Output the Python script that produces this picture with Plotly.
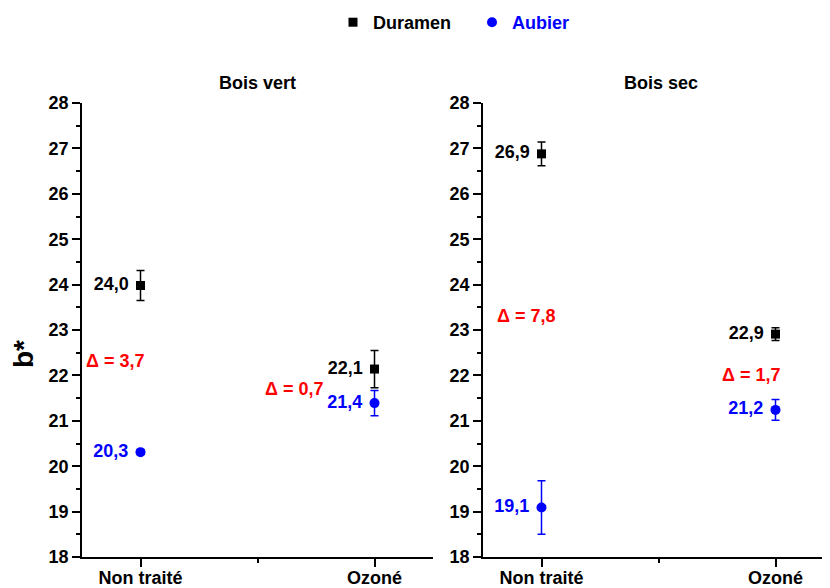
import plotly.graph_objects as go

# ---- data ----
categories = ["Non traité", "Ozoné"]
cat_pos = [1, 2]
panels = ["Bois vert", "Bois sec"]

duramen_vert = [23.98, 22.14]
duramen_vert_err = [0.33, 0.41]
aubier_vert = [20.31, 21.39]
aubier_vert_err = [0.05, 0.28]

duramen_sec = [26.88, 22.91]
duramen_sec_err = [0.26, 0.14]
aubier_sec = [19.09, 21.24]
aubier_sec_err = [0.59, 0.23]

y_ticks = list(range(18, 29))

# ---- style ----
W, H = 830, 588
OFF = 8  # page body margin of the browser
FONT = "Liberation Sans"
FS = 18
BLUE = "#0000ff"
RED = "#ff0000"


def fmt(v):
    return f"{v:.1f}".replace(".", ",")


def px_x(p):
    return (p - OFF) / W


def px_y(p):
    return 1 - (p - OFF) / H


fig = go.Figure()

panel_data = [
    (duramen_vert, duramen_vert_err, aubier_vert, aubier_vert_err, "x", "y"),
    (duramen_sec, duramen_sec_err, aubier_sec, aubier_sec_err, "x2", "y2"),
]

for i, (dur, dur_e, aub, aub_e, xa, ya) in enumerate(panel_data):
    fig.add_trace(go.Scatter(
        x=cat_pos, y=dur, xaxis=xa, yaxis=ya,
        mode="markers+text",
        name="Duramen", legendgroup="d", showlegend=(i == 0),
        marker=dict(symbol="square", size=9, color="black"),
        error_y=dict(type="data", array=dur_e, visible=True,
                     color="black", thickness=1.5, width=4),
        text=[fmt(v) + " " for v in dur], textposition="middle left",
        textfont=dict(family=FONT, size=FS, color="black", weight="bold"),
        cliponaxis=False,
    ))
    fig.add_trace(go.Scatter(
        x=cat_pos, y=aub, xaxis=xa, yaxis=ya,
        mode="markers+text",
        name=f"<span style='color:{BLUE}'>Aubier</span>", legendgroup="a",
        showlegend=(i == 0),
        marker=dict(symbol="circle", size=10, color=BLUE),
        error_y=dict(type="data", array=aub_e, visible=True,
                     color=BLUE, thickness=1.5, width=4),
        text=[fmt(v) + " " for v in aub], textposition="middle left",
        textfont=dict(family=FONT, size=FS, color=BLUE, weight="bold"),
        cliponaxis=False,
    ))

# Delta annotations (difference of the displayed rounded values)
delta_pos = [[(0.889, 22.32), (1.658, 21.70)], [(0.932, 23.31), (1.897, 22.0)]]
annotations = []
for i, (dur, dur_e, aub, aub_e, xa, ya) in enumerate(panel_data):
    for j in range(len(categories)):
        d = round(round(dur[j], 1) - round(aub[j], 1), 1)
        annotations.append(dict(
            x=delta_pos[i][j][0], y=delta_pos[i][j][1], xref=xa, yref=ya,
            text=f"Δ = {fmt(d)}", showarrow=False,
            font=dict(family=FONT, size=FS, color=RED, weight="bold"),
            xanchor="center", yanchor="middle",
        ))

# panel titles
for i, (title, xa) in enumerate(zip(panels, ["x", "x2"])):
    annotations.append(dict(
        x=0.5, xref=f"{xa} domain", y=px_y(83), yref="paper",
        text=title, showarrow=False,
        font=dict(family=FONT, size=FS, color="black", weight="bold"),
        xanchor="center", yanchor="middle",
    ))

# y-axis title
annotations.append(dict(
    x=px_x(23), y=px_y(354), xref="paper", yref="paper",
    text="b*", showarrow=False, textangle=-90,
    font=dict(family=FONT, size=28, color="black", weight="bold"),
    xanchor="center", yanchor="middle",
))

axis_common = dict(
    showline=True, linecolor="black", linewidth=1.5,
    ticks="outside", ticklen=8, tickwidth=1.5, tickcolor="black",
    showgrid=False, zeroline=False, automargin=False,
    tickfont=dict(family=FONT, size=FS, color="black", weight="bold"),
)

xaxis_common = dict(
    axis_common, tickvals=cat_pos, ticktext=categories,
    ticklabelstandoff=-4,
    minor=dict(tickvals=[1.5], ticks="outside", ticklen=4, tickwidth=1.5,
               tickcolor="black", showgrid=False),
)
yaxis_common = dict(
    axis_common, range=[18, 28], tickvals=y_ticks,
    minor=dict(dtick=0.5, ticks="outside", ticklen=4, tickwidth=1.5,
               tickcolor="black", showgrid=False),
    domain=[px_y(557), px_y(103)],
)

fig.update_layout(
    width=W, height=H,
    margin=dict(l=0, r=0, t=0, b=0, autoexpand=False),
    plot_bgcolor="white", paper_bgcolor="white",
    font=dict(family=FONT, color="black"),
    xaxis=dict(xaxis_common, domain=[px_x(82), px_x(433)], range=[0.75, 2.25],
               anchor="y"),
    yaxis=dict(yaxis_common, anchor="x"),
    xaxis2=dict(xaxis_common, domain=[px_x(483), 1.0],
                range=[0.75, 0.75 + (W + OFF - 483) / 234], anchor="y2"),
    yaxis2=dict(yaxis_common, anchor="x2"),
    legend=dict(orientation="h", x=px_x(333), y=px_y(4), xanchor="left",
                yanchor="top", entrywidth=94,
                font=dict(family=FONT, size=FS, color="black", weight="bold"),
                bgcolor="rgba(0,0,0,0)"),
    annotations=annotations,
    showlegend=True,
)

fig.write_html("out.html")
